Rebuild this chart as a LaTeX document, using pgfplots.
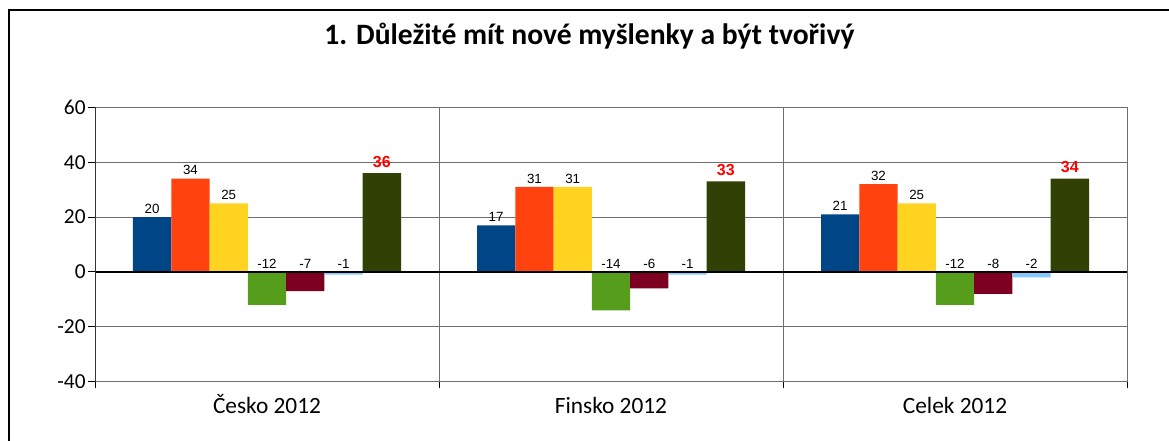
\documentclass[border=0pt]{standalone}
\usepackage{pgfplots}
\pgfplotsset{compat=1.18}
\usepackage{fontspec}
\setmainfont{Carlito}
\newfontfamily\arial{Liberation Sans}

\definecolor{sblue}{HTML}{004586}
\definecolor{sorange}{HTML}{FF420E}
\definecolor{syellow}{HTML}{FFD320}
\definecolor{sgreen}{HTML}{579D1C}
\definecolor{smaroon}{HTML}{7E0021}
\definecolor{slight}{HTML}{83CAFF}
\definecolor{solive}{HTML}{314004}
\definecolor{gridc}{HTML}{6E6E6E}

\begin{document}
\begin{tikzpicture}
% 1 px of the reference = 0.75pt
\useasboundingbox (0pt,0pt) rectangle (876.75pt,330.75pt);
\draw[line width=1.5pt] (6.75pt,0pt) -- (6.75pt,323.25pt) -- (876.75pt,323.25pt);
\node[anchor=base, font=\bfseries\fontsize{22.2}{26}\selectfont] at (442.1pt,297.5pt)
  {1. Důležité mít nové myšlenky a být tvořivý};

\begin{axis}[
    at={(71.25pt,44.5pt)}, anchor=south west,
    scale only axis,
    width=774pt, height=205.7pt,
    xmin=-0.5, xmax=2.5,
    ymin=-40, ymax=60,
    ytick={-40,-20,...,60},
    xtick={-0.5,0.5,1.5,2.5},
    xticklabels={},
    extra x ticks={0,1,2},
    extra x tick labels={Česko 2012, Finsko 2012, Celek 2012},
    extra x tick style={grid=none, major tick length=0pt,
      xticklabel style={anchor=base, yshift=-23.7pt, font=\fontsize{17.5}{21}\selectfont}},
    xmajorgrids, ymajorgrids,
    grid style={gridc, line width=0.75pt},
    axis line style={gridc, line width=0.75pt},
    tick style={black, line width=0.75pt},
    tick align=outside,
    major tick length=5pt,
    xtick pos=bottom, ytick pos=left,
    ticklabel style={font=\fontsize{16}{19}\selectfont},
    yticklabel style={xshift=1.5pt},
    /pgf/number format/assume math mode=true,
    ybar=0pt, bar width=0.1113,
    visualization depends on=rawy\as\rawy,
    nodes near coords={\pgfmathprintnumber[assume math mode=true]{\pgfplotspointmeta}},
    nodes near coords style={font=\arial\fontsize{10}{12}\selectfont, anchor=south,
      inner sep=2.5pt, shift={(axis direction cs:0,{max(0,-\rawy)})}},
]
\addplot[fill=sblue, draw=none] coordinates {(0,20) (1,17) (2,21)};
\addplot[fill=sorange, draw=none] coordinates {(0,34) (1,31) (2,32)};
\addplot[fill=syellow, draw=none] coordinates {(0,25) (1,31) (2,25)};
\addplot[fill=sgreen, draw=none] coordinates {(0,-12) (1,-14) (2,-12)};
\addplot[fill=smaroon, draw=none] coordinates {(0,-7) (1,-6) (2,-8)};
\addplot[fill=slight, draw=none] coordinates {(0,-1) (1,-1) (2,-2)};
\addplot[fill=solive, draw=none,
  nodes near coords style={font=\arial\bfseries\fontsize{12}{14}\selectfont, text=red, inner sep=4pt}]
  coordinates {(0,36) (1,33) (2,34)};
\draw[black, line width=1pt] (axis cs:-0.5,0) -- (axis cs:2.5,0);
\draw[black!80, line width=0.75pt] (axis cs:-0.5,-40) -- (axis cs:-0.5,60);
\end{axis}
\end{tikzpicture}
\end{document}
